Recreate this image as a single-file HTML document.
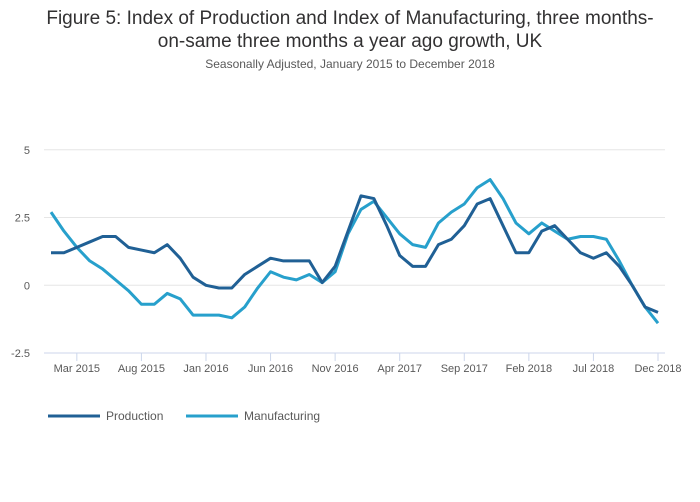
<!DOCTYPE html>
<html><head><meta charset="utf-8"><style>
body{margin:0;background:#fff;font-family:"Liberation Sans",sans-serif;}
#c{position:relative;width:700px;height:502px;overflow:hidden}
.t{position:absolute;left:0;width:700px;text-align:center;color:#323132}
</style></head><body>
<div id="c">
<div class="t" style="top:7px;font-size:19px;line-height:23px">Figure 5: Index of Production and Index of Manufacturing, three months-<br>on-same three months a year ago growth, UK</div>
<div class="t" style="top:57px;font-size:12px;color:#595959">Seasonally Adjusted, January 2015 to December 2018</div>
<svg id="s" width="700" height="502" style="position:absolute;left:0;top:0"></svg>
</div>
<script>
const yTicks=[5,2.5,0,-2.5];
const yTickLabels=["5","2.5","0","-2.5"];
const xTickIdx=[2,7,12,17,22,27,32,37,42,47];
const xTickLabels=["Mar 2015","Aug 2015","Jan 2016","Jun 2016","Nov 2016","Apr 2017","Sep 2017","Feb 2018","Jul 2018","Dec 2018"];
const production=[1.2,1.2,1.4,1.6,1.8,1.8,1.4,1.3,1.2,1.5,1.0,0.3,0.0,-0.1,-0.1,0.4,0.7,1.0,0.9,0.9,0.9,0.1,0.7,2.0,3.3,3.2,2.2,1.1,0.7,0.7,1.5,1.7,2.2,3.0,3.2,2.2,1.2,1.2,2.0,2.2,1.7,1.2,1.0,1.2,0.7,0.0,-0.8,-1.0];
const manufacturing=[2.7,2.0,1.4,0.9,0.6,0.2,-0.2,-0.7,-0.7,-0.3,-0.5,-1.1,-1.1,-1.1,-1.2,-0.8,-0.1,0.5,0.3,0.2,0.4,0.1,0.5,1.9,2.8,3.1,2.5,1.9,1.5,1.4,2.3,2.7,3.0,3.6,3.9,3.2,2.3,1.9,2.3,2.0,1.7,1.8,1.8,1.7,0.9,0.0,-0.8,-1.4];
const NS="http://www.w3.org/2000/svg",svg=document.getElementById('s');
const x=i=>51+i*(658-51)/(production.length-1);
const y=v=>285.3-v*27.1;
function mk(t,a){const e=document.createElementNS(NS,t);for(const k in a)e.setAttribute(k,a[k]);svg.appendChild(e);return e;}
yTicks.forEach((v,i)=>{
 const g=mk('line',{x1:44,x2:665,y1:y(v),y2:y(v),stroke:v===-2.5?'#ccd6eb':'#e6e6e6','stroke-width':1});
 
 
 const t=mk('text',{x:30,y:y(v)+4,'text-anchor':'end','font-size':11,fill:'#595959'});t.textContent=yTickLabels[i];
 
 
});
xTickIdx.forEach((d,i)=>{
 const l=mk('line',{x1:x(d),x2:x(d),y1:y(-2.5),y2:y(-2.5)+8,stroke:'#ccd6eb'});
 
 
 const t=mk('text',{x:x(d),y:372,'text-anchor':'middle','font-size':11,fill:'#595959'});t.textContent=xTickLabels[i];
 
 
});
function line(arr,col,name){
 const p=mk('polyline',{points:arr.map((v,i)=>x(i)+','+y(v)).join(' '),fill:'none',stroke:col,'stroke-width':3,'stroke-linejoin':'round'});
 
 
}
line(manufacturing,'#27a0cc','manufacturing-line');
line(production,'#206095','production-line');
[[48,'#206095','Production','legend-production'],[186,'#27a0cc','Manufacturing','legend-manufacturing']].forEach(a=>{
 const l=mk('line',{x1:a[0],x2:a[0]+52,y1:416,y2:416,stroke:a[1],'stroke-width':3});
 
 
 const t=mk('text',{x:a[0]+58,y:420,'font-size':12,fill:'#595959'});t.textContent=a[2];
 
 
});
</script>
</body></html>
